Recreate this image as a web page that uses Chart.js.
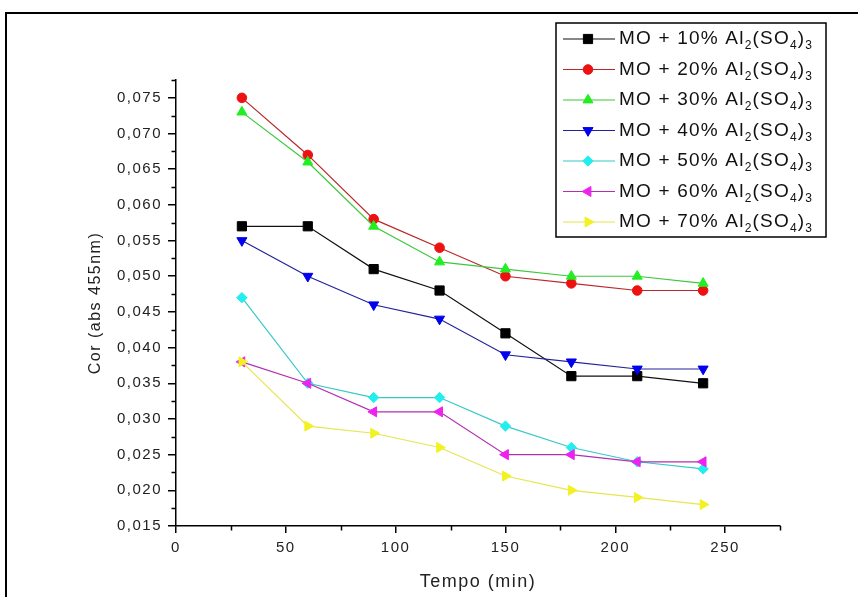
<!DOCTYPE html>
<html>
<head>
<meta charset="utf-8">
<script src="https://cdn.jsdelivr.net/npm/chart.js@4.4.1/dist/chart.umd.min.js"></script>
<style>
  html, body { margin: 0; padding: 0; background: #fff; overflow: hidden; }
  #wrap { position: relative; width: 858px; height: 597px; }
  #chart { position: absolute; left: 0; top: 0; }
  /* outer frame, only top and left edges are visible */
  #frame { position: absolute; left: 5px; top: 12px; width: 900px; height: 700px;
           border-top: 2px solid #000; border-left: 2px solid #000; pointer-events: none; }
</style>
</head>
<body>
<div id="wrap">
  <canvas id="chart" width="858" height="597"></canvas>
  <div id="frame"></div>
</div>
<script>
// time (min)
const tempo = [30, 60, 90, 120, 150, 180, 210, 240];

// colour (abs 455nm) for each dose of Al2(SO4)3
const mo10 = [0.057, 0.057, 0.051, 0.048, 0.042, 0.036, 0.036, 0.035];
const mo20 = [0.075, 0.067, 0.058, 0.054, 0.050, 0.049, 0.048, 0.048];
const mo30 = [0.073, 0.066, 0.057, 0.052, 0.051, 0.050, 0.050, 0.049];
const mo40 = [0.055, 0.050, 0.046, 0.044, 0.039, 0.038, 0.037, 0.037];
const mo50 = [0.047, 0.035, 0.033, 0.033, 0.029, 0.026, 0.024, 0.023];
const mo60 = [0.038, 0.035, 0.031, 0.031, 0.025, 0.025, 0.024, 0.024];
const mo70 = [0.038, 0.029, 0.028, 0.026, 0.022, 0.020, 0.019, 0.018];

const seriesLabels = [
  'MO + 10% Al₂(SO₄)₃', 'MO + 20% Al₂(SO₄)₃', 'MO + 30% Al₂(SO₄)₃', 'MO + 40% Al₂(SO₄)₃',
  'MO + 50% Al₂(SO₄)₃', 'MO + 60% Al₂(SO₄)₃', 'MO + 70% Al₂(SO₄)₃'
];
const seriesValues = [mo10, mo20, mo30, mo40, mo50, mo60, mo70];

// axis ranges and tick steps
const xMin = 0, xMax = 275, xStep = 50;
const yMin = 0.015, yMax = 0.0775, yStep = 0.005;

// styling
const fillColors = ['#000000', '#ee1111', '#22ee22', '#0000ee', '#22eeee', '#ee22ee', '#f2f222'];
const lineColors = ['#111111', '#b82828', '#3cc83c', '#22229a', '#38c8c8', '#b030b0', '#e6e650'];
const pointStyles = ['rect', 'circle', 'triangle', 'triangle', 'rectRot', 'triangle', 'triangle'];
const pointRotations = [0, 0, 0, 180, 0, 270, 90];
const pointRadii = [6.5, 4.8, 5.8, 5.8, 5.2, 5.8, 5.8];

const FONT = "'Liberation Sans', Arial, sans-serif";
const TEXT = '#222';

const SUBS = { '₂': '2', '₃': '3', '₄': '4' };

// legend box with subscripts
const legendBox = { left: 556, top: 23, right: 826, bottom: 237, firstRow: 39, rowHeight: 30.5 };

const frameLegend = {
  id: 'frameLegend',
  beforeDraw(chart) {
    chart.ctx.letterSpacing = '1.5px';
  },
  afterDraw(chart) {
    const ctx = chart.ctx;
    const xs = chart.scales.x, ys = chart.scales.y;

    // minor ticks
    ctx.save();
    ctx.strokeStyle = '#000';
    ctx.lineWidth = 1.5;
    ctx.beginPath();
    for (let v = yMin + yStep / 2; v <= yMax + 1e-9; v += yStep) {
      const py = Math.round(ys.getPixelForValue(v)) + 0.5;
      ctx.moveTo(chart.chartArea.left - 4.5, py);
      ctx.lineTo(chart.chartArea.left, py);
    }
    for (let v = xMin + xStep / 2; v <= xMax + 1e-9; v += xStep) {
      const px = Math.round(xs.getPixelForValue(v)) + 0.5;
      ctx.moveTo(px, chart.chartArea.bottom);
      ctx.lineTo(px, chart.chartArea.bottom + 4.5);
    }
    ctx.stroke();
    ctx.restore();

    // legend
    const lb = legendBox;
    ctx.save();
    ctx.fillStyle = '#fff';
    ctx.fillRect(lb.left, lb.top, lb.right - lb.left, lb.bottom - lb.top);
    ctx.strokeStyle = '#000';
    ctx.lineWidth = 1.5;
    ctx.strokeRect(lb.left, lb.top, lb.right - lb.left, lb.bottom - lb.top);

    chart.data.datasets.forEach((ds, i) => {
      const y = lb.firstRow + i * lb.rowHeight;
      ctx.strokeStyle = ds.borderColor;
      ctx.lineWidth = 1.2;
      ctx.beginPath();
      ctx.moveTo(563, y);
      ctx.lineTo(615, y);
      ctx.stroke();
      ctx.fillStyle = ds.pointBackgroundColor;
      ctx.strokeStyle = ds.pointBackgroundColor;
      ctx.lineWidth = 1;
      Chart.helpers.drawPoint(ctx, {
        pointStyle: ds.pointStyle, rotation: ds.pointRotation,
        radius: ds.pointRadius, borderWidth: 1
      }, 588, y);

      // label text, subscripts drawn smaller and lower
      let x = 619;
      ctx.fillStyle = '#111';
      ctx.textBaseline = 'middle';
      ctx.textAlign = 'left';
      ctx.letterSpacing = '1.2px';
      for (const ch of ds.label) {
        if (SUBS[ch]) {
          ctx.font = '12px ' + FONT;
          ctx.fillText(SUBS[ch], x, y + 7);
          x += ctx.measureText(SUBS[ch]).width;
        } else {
          ctx.font = '19px ' + FONT;
          ctx.fillText(ch, x, y);
          x += ctx.measureText(ch).width;
        }
      }
    });
    ctx.restore();
  }
};

const datasets = seriesValues.map((vals, i) => ({
  label: seriesLabels[i],
  data: vals.map((v, j) => ({ x: tempo[j], y: v })),
  borderColor: lineColors[i],
  borderWidth: 1.2,
  pointStyle: pointStyles[i],
  pointRotation: pointRotations[i],
  pointRadius: pointRadii[i],
  pointBackgroundColor: fillColors[i],
  pointBorderColor: fillColors[i],
  pointBorderWidth: 1,
  tension: 0,
  fill: false,
  order: -i
}));

const axisCommon = {
  border: { display: true, color: '#000', width: 1.5 },
  grid: { display: true, drawOnChartArea: false, drawTicks: true, tickLength: 8,
          tickColor: '#000', tickWidth: 1.5, lineWidth: 1.5 }
};

new Chart(document.getElementById('chart'), {
  type: 'line',
  data: { datasets },
  options: {
    responsive: false,
    animation: false,
    layout: { padding: { top: 80, right: 78, left: 0, bottom: 0 } },
    plugins: { legend: { display: false }, tooltip: { enabled: false } },
    scales: {
      x: {
        ...axisCommon,
        type: 'linear',
        min: xMin, max: xMax,
        grid: { ...axisCommon.grid, tickLength: 7 },
        ticks: { stepSize: xStep, includeBounds: false, padding: 6, maxRotation: 0,
                 color: TEXT, font: { family: FONT, size: 15 } },
        title: { display: true, text: 'Tempo (min)', color: TEXT,
                 font: { family: FONT, size: 18 }, padding: { top: 0, bottom: 4 } },
        afterFit: s => { s.height = 71; }
      },
      y: {
        ...axisCommon,
        type: 'linear',
        min: yMin, max: yMax,
        ticks: { stepSize: yStep, includeBounds: false, padding: 6,
                 color: TEXT, font: { family: FONT, size: 15 },
                 callback: v => v.toFixed(3).replace('.', ',') },
        title: { display: true, text: 'Cor (abs 455nm)', color: TEXT,
                 font: { family: FONT, size: 16 }, padding: { top: 86, bottom: 0 } },
        afterFit: s => { s.width = 176; }
      }
    }
  },
  plugins: [frameLegend]
});
</script>
</body>
</html>
